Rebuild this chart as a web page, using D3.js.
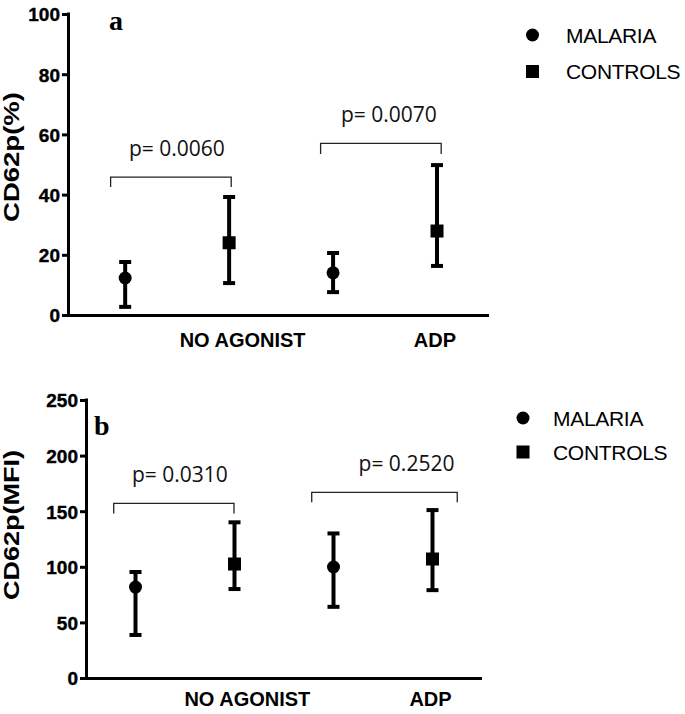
<!DOCTYPE html>
<html>
<head>
<meta charset="utf-8">
<script src="https://cdn.jsdelivr.net/npm/d3@7"></script>
<style>
  html, body { margin: 0; padding: 0; background: #fff; }
  svg { display: block; }
</style>
</head>
<body>
<svg id="chart" width="685" height="714"></svg>
<script>
// ---------- DATA ----------
const categories = ["NO AGONIST", "ADP"];
const seriesNames = ["MALARIA", "CONTROLS"];

// Panel a: CD62p (%)
const aTicks = [0, 20, 40, 60, 80, 100];
const aMalariaMean = [12.3, 14.0];
const aMalariaLow  = [2.7, 7.6];
const aMalariaHigh = [17.6, 20.6];
const aControlsMean = [24.0, 27.9];
const aControlsLow  = [10.6, 16.3];
const aControlsHigh = [39.2, 49.8];
const aPValues = ["p= 0.0060", "p= 0.0070"];
const aBracketTop = [45.8, 57.0];
const aBracketEnd = [42.5, 53.5];
const aBracketSpan = [[-0.14, 1.02], [1.88, 3.04]];

// Panel b: CD62p (MFI)
const bTicks = [0, 50, 100, 150, 200, 250];
const bMalariaMean = [81.8, 99.8];
const bMalariaLow  = [38.7, 64.0];
const bMalariaHigh = [95.3, 130.0];
const bControlsMean = [102.5, 107.0];
const bControlsLow  = [80.0, 79.0];
const bControlsHigh = [140.0, 151.0];
const bPValues = ["p= 0.0310", "p= 0.2520"];
const bBracketTop = [157, 167];
const bBracketEnd = [148, 158];
const bBracketSpan = [[-0.22, 0.995], [1.78, 3.25]];

// category label positions (in slot units)
const categoryPos = [1.13, 2.98];

// ---------- DRAW ----------
const svg = d3.select("#chart");

function panel(cfg) {
  const g = svg.append("g");
  const x = d3.scaleLinear().domain(cfg.xDomain).range([cfg.left, cfg.right]);
  const y = d3.scaleLinear().domain([cfg.ticks[0], cfg.ticks[cfg.ticks.length - 1]]).range([cfg.bottom, cfg.top]);

  // y axis
  const yAxis = d3.axisLeft(y).tickValues(cfg.ticks).tickSize(6).tickPadding(2).tickSizeOuter(0);
  const ya = g.append("g").attr("transform", `translate(${cfg.left},0)`).call(yAxis)
    .attr("font-family", "'Liberation Sans', Arial, sans-serif")
    .attr("font-size", 19)
    .attr("font-weight", "bold");
  ya.select(".domain").attr("stroke", "#000").attr("stroke-width", 3)
    .attr("d", `M0.5,${y(cfg.ticks[cfg.ticks.length-1]) - 1.5}V${cfg.bottom + 1.5}`);
  ya.selectAll(".tick line").attr("stroke", "#000").attr("stroke-width", 3);
  ya.selectAll(".tick text")
    .attr("fill", "#000")
    .attr("stroke", "#000")
    .attr("stroke-width", 0.4)
    .attr("font-weight", "bold")
    .attr("dy", "0.36em");

  // x axis line
  g.append("line")
    .attr("x1", cfg.left - 1).attr("x2", cfg.right)
    .attr("y1", y(0) + 0.5).attr("y2", y(0) + 0.5)
    .attr("stroke", "#000").attr("stroke-width", 3);

  // category labels
  g.selectAll("text.cat").data(categories).join("text")
    .attr("class", "cat")
    .attr("x", (d, i) => x(categoryPos[i]))
    .attr("y", cfg.catY)
    .attr("text-anchor", "middle")
    .style("font-family", "'Liberation Sans', Arial, sans-serif")
    .style("font-weight", "bold")
    .style("font-size", "20px")
    .text(d => d);

  // y title
  g.append("text")
    .attr("transform", `translate(${cfg.titleX},${cfg.titleY}) rotate(-90)`)
    .attr("text-anchor", "middle")
    .attr("textLength", cfg.titleLen)
    .attr("lengthAdjust", "spacingAndGlyphs")
    .style("font-family", "'Liberation Sans', Arial, sans-serif")
    .style("font-weight", "bold")
    .style("font-size", "22px")
    .text(cfg.title);

  // panel letter
  g.append("text")
    .attr("x", cfg.letterX).attr("y", cfg.letterY)
    .style("font-family", "'Liberation Serif', 'Times New Roman', serif")
    .style("font-weight", "bold")
    .style("font-size", "28px")
    .text(cfg.letter);

  // points: slot index = category*2 + series
  const pts = [];
  categories.forEach((c, i) => {
    pts.push({ slot: i * 2, mean: cfg.mMean[i], lo: cfg.mLow[i], hi: cfg.mHigh[i], shape: "circle" });
    pts.push({ slot: i * 2 + 1, mean: cfg.cMean[i], lo: cfg.cLow[i], hi: cfg.cHigh[i], shape: "square" });
  });

  const pg = g.selectAll("g.pt").data(pts).join("g").attr("class", "pt");
  pg.append("line")
    .attr("x1", d => x(d.slot)).attr("x2", d => x(d.slot))
    .attr("y1", d => y(d.lo)).attr("y2", d => y(d.hi))
    .attr("stroke", "#000").attr("stroke-width", 4);
  pg.append("line")
    .attr("x1", d => x(d.slot) - 6).attr("x2", d => x(d.slot) + 6)
    .attr("y1", d => y(d.hi)).attr("y2", d => y(d.hi))
    .attr("stroke", "#000").attr("stroke-width", 4);
  pg.append("line")
    .attr("x1", d => x(d.slot) - 6).attr("x2", d => x(d.slot) + 6)
    .attr("y1", d => y(d.lo)).attr("y2", d => y(d.lo))
    .attr("stroke", "#000").attr("stroke-width", 4);
  pg.filter(d => d.shape === "circle").append("circle")
    .attr("cx", d => x(d.slot)).attr("cy", d => y(d.mean)).attr("r", 6.5).attr("fill", "#000");
  pg.filter(d => d.shape === "square").append("rect")
    .attr("x", d => x(d.slot) - 6.5).attr("y", d => y(d.mean) - 6.5)
    .attr("width", 13).attr("height", 13).attr("fill", "#000");

  // brackets & p-values
  cfg.pv.forEach((p, i) => {
    const x1 = x(cfg.span[i][0]), x2 = x(cfg.span[i][1]);
    const yt = y(cfg.bTop[i]), ye = y(cfg.bEnd[i]);
    g.append("path")
      .attr("d", `M${x1},${ye}V${yt}H${x2}V${ye}`)
      .attr("fill", "none").attr("stroke", "#222").attr("stroke-width", 1.3);
    g.append("text")
      .attr("x", (x1 + x2) / 2 + cfg.pShift[i])
      .attr("y", yt - 21)
      .attr("text-anchor", "middle")
      .style("font-family", "'Open Sans', sans-serif")
      .style("font-size", "21px")
      .attr("fill", "#111")
      .text(p);
  });

  // legend
  const lg = g.append("g");
  lg.append("circle").attr("cx", cfg.legX).attr("cy", cfg.legY[0]).attr("r", 6.5).attr("fill", "#000");
  lg.append("rect").attr("x", cfg.legX - 6.5).attr("y", cfg.legY[1] - 6.5).attr("width", 13).attr("height", 13).attr("fill", "#000");
  seriesNames.forEach((s, i) => {
    lg.append("text")
      .attr("x", cfg.legTextX).attr("y", cfg.legY[i] + 7.5)
      .style("font-family", "'Liberation Sans', Arial, sans-serif")
      .style("font-size", "21px")
      .attr("letter-spacing", "-0.3px")
      .text(s);
  });
}

panel({
  xDomain: [-0.55, 3.5], left: 68, right: 489, top: 14, bottom: 315,
  ticks: aTicks,
  mMean: aMalariaMean, mLow: aMalariaLow, mHigh: aMalariaHigh,
  cMean: aControlsMean, cLow: aControlsLow, cHigh: aControlsHigh,
  pv: aPValues, bTop: aBracketTop, bEnd: aBracketEnd, span: aBracketSpan, pShift: [6, 8],
  catY: 347, title: "CD62p(%)", titleX: 19, titleY: 157, titleLen: 130,
  letter: "a", letterX: 109, letterY: 30,
  legX: 532.5, legY: [35, 71.5], legTextX: 566
});

panel({
  xDomain: [-0.5, 3.5], left: 86, right: 482, top: 400, bottom: 678,
  ticks: bTicks,
  mMean: bMalariaMean, mLow: bMalariaLow, mHigh: bMalariaHigh,
  cMean: bControlsMean, cLow: bControlsLow, cHigh: bControlsHigh,
  pv: bPValues, bTop: bBracketTop, bEnd: bBracketEnd, span: bBracketSpan, pShift: [6, 22],
  catY: 706, title: "CD62p(MFI)", titleX: 19, titleY: 525, titleLen: 150,
  letter: "b", letterX: 94, letterY: 435,
  legX: 523, legY: [418, 452], legTextX: 553
});
</script>
</body>
</html>
